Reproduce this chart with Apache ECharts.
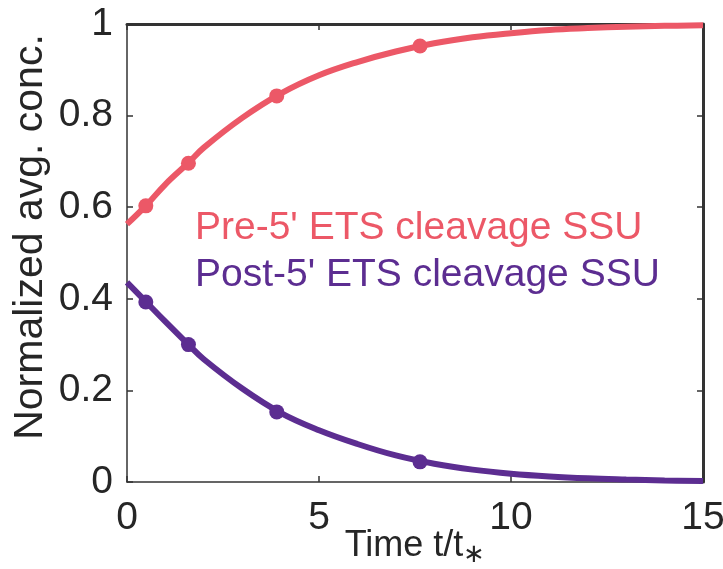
<!DOCTYPE html>
<html>
<head>
<meta charset="utf-8">
<script src="https://cdn.jsdelivr.net/npm/echarts@6/dist/echarts.min.js"></script>
<style>
  html, body { margin: 0; padding: 0; background: #fff; }
  #chart { width: 723px; height: 569px; }
</style>
</head>
<body>
<div id="chart"></div>
<script>
// 曲线采样点
const curveT = [0, 0.5, 1, 1.6, 2, 3, 4, 5, 6, 7, 8, 9, 10, 11, 12, 13, 14, 15];
const preCurve = [0.563, 0.604, 0.650, 0.697, 0.730, 0.795, 0.848, 0.888, 0.917, 0.940, 0.958, 0.971, 0.980, 0.987, 0.991, 0.994, 0.996, 0.997];
const postCurve = [0.436, 0.393, 0.350, 0.300, 0.268, 0.204, 0.151, 0.113, 0.083, 0.058, 0.040, 0.027, 0.018, 0.012, 0.008, 0.0055, 0.0035, 0.002];

// 数据点
const pointT = [0.49, 1.60, 3.90, 7.63];
const prePoints = [0.603, 0.696, 0.843, 0.952];
const postPoints = [0.393, 0.300, 0.153, 0.044];

// 坐标轴
const xTicks = [0, 5, 10, 15];
const yTicks = [0, 0.2, 0.4, 0.6, 0.8, 1];
const seriesNames = ["Pre-5' ETS cleavage SSU", "Post-5' ETS cleavage SSU"];

const preColor = '#EC5867';
const postColor = '#5C2D91';
const axisColor = '#333333';
const textColor = '#262626';
const font = 'Liberation Sans, Arial, sans-serif';

const zip = (xs, ys) => xs.map((x, i) => [x, ys[i]]);

let myChart = echarts.init(document.getElementById('chart'));

const xBase = (w) => ({
    type: 'value',
    show: true,
    min: xTicks[0],
    max: xTicks[xTicks.length - 1],
    interval: xTicks[1] - xTicks[0],
    axisLine: { show: true, onZero: false, lineStyle: { color: axisColor, width: w } },
    axisTick: { show: true, inside: true, length: 6, lineStyle: { color: axisColor, width: 1.5 } },
    splitLine: { show: false }
});
const yBase = (w) => ({
    type: 'value',
    show: true,
    min: yTicks[0],
    max: yTicks[yTicks.length - 1],
    interval: yTicks[1] - yTicks[0],
    axisLine: { show: true, onZero: false, lineStyle: { color: axisColor, width: w } },
    axisTick: { show: true, inside: true, length: 6, lineStyle: { color: axisColor, width: 1.5 } },
    splitLine: { show: false }
});

const option = {
    animation: false,
    backgroundColor: '#fff',
    grid: {
        left: 127, right: 20, top: 24, bottom: 87,
        containLabel: false, outerBoundsMode: 'none', show: false
    },
    xAxis: [
        Object.assign(xBase(1.5), {
            position: 'bottom',
            axisLabel: { color: textColor, fontSize: 39, fontFamily: font, margin: 17 },
            name: '{a|Time t/t}{b|∗}',
            nameLocation: 'middle',
            nameGap: 42,
            nameMoveOverlap: false,
            nameTextStyle: {
                rich: {
                    a: { fontSize: 36, fontFamily: font, color: textColor },
                    b: { fontSize: 26, fontFamily: font, color: textColor, padding: [18, 0, 0, 0] }
                }
            }
        }),
        // 上边框
        Object.assign(xBase(3), { position: 'top', axisLabel: { show: false } })
    ],
    yAxis: [
        Object.assign(yBase(1.5), {
            position: 'left',
            axisLabel: {
                color: textColor, fontSize: 39, fontFamily: font, margin: 14,
                formatter: v => String(Number(v.toFixed(1)))
            },
            name: 'Normalized avg. conc.',
            nameLocation: 'middle',
            nameGap: 76,
            nameMoveOverlap: false,
            nameTextStyle: { color: textColor, fontSize: 41, fontFamily: font, padding: [0, 0, 0, 32] }
        }),
        // 右边框
        Object.assign(yBase(3), { position: 'right', axisLabel: { show: false } })
    ],
    series: [
        {
            name: seriesNames[0], type: 'line', data: zip(curveT, preCurve),
            smooth: 0.4, showSymbol: false,
            lineStyle: { color: preColor, width: 6 }, z: 2
        },
        {
            name: seriesNames[1], type: 'line', data: zip(curveT, postCurve),
            smooth: 0.4, showSymbol: false,
            lineStyle: { color: postColor, width: 6 }, z: 2
        },
        {
            type: 'scatter', data: zip(pointT, prePoints),
            symbol: 'circle', symbolSize: 15, itemStyle: { color: preColor, opacity: 1 }, z: 3
        },
        {
            type: 'scatter', data: zip(pointT, postPoints),
            symbol: 'circle', symbolSize: 15, itemStyle: { color: postColor, opacity: 1 }, z: 3
        }
    ],
    graphic: [
        { type: 'text', x: 195, y: 228, style: { text: seriesNames[0], fill: preColor, font: '39px ' + font, verticalAlign: 'middle' } },
        { type: 'text', x: 195, y: 275, style: { text: seriesNames[1], fill: postColor, font: '39px ' + font, verticalAlign: 'middle' } }
    ]
};

myChart.setOption(option);
</script>
</body>
</html>
